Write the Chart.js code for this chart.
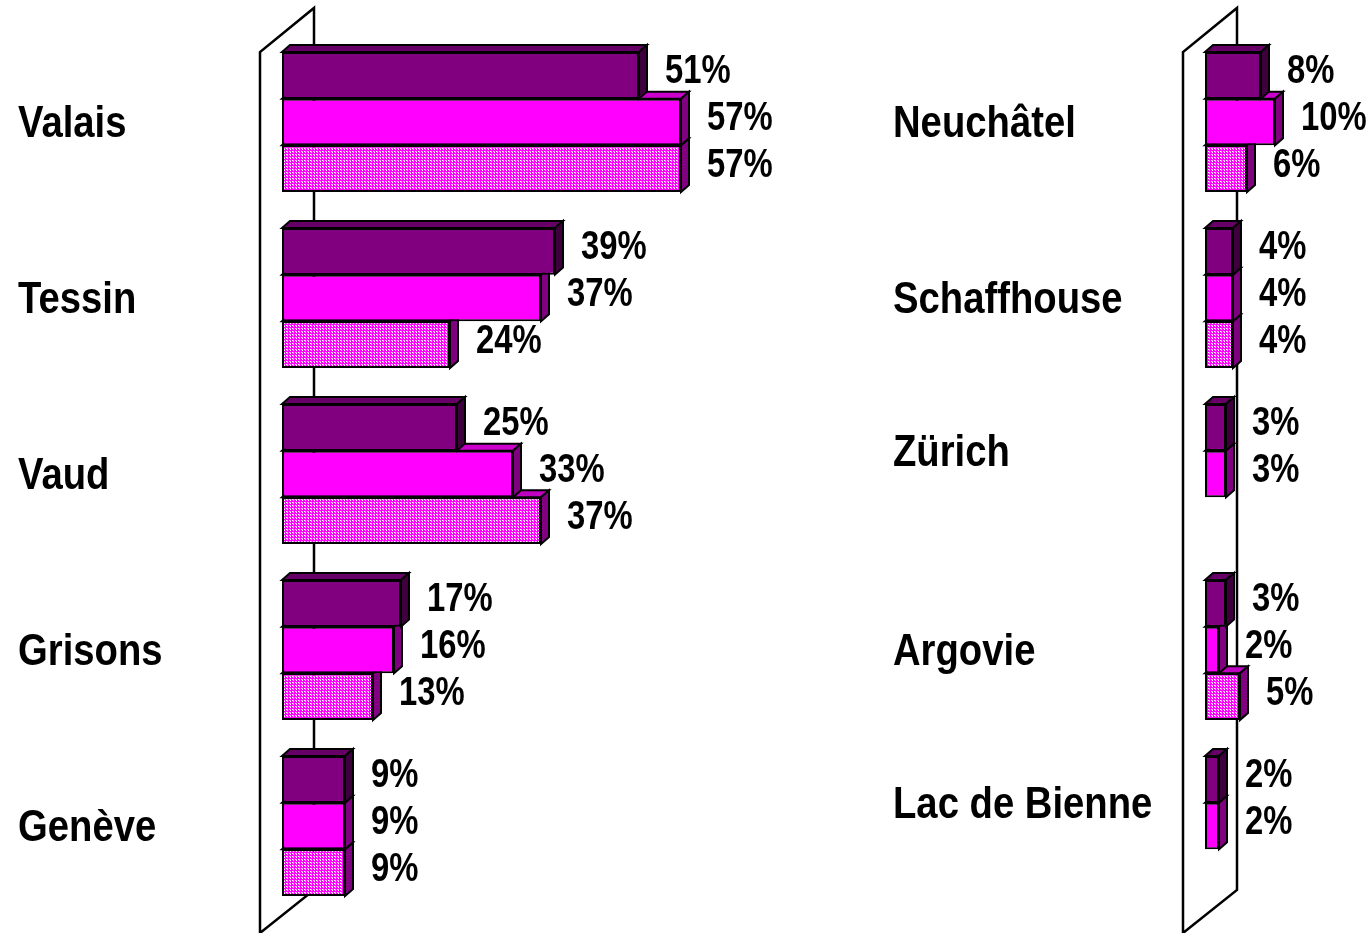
<!DOCTYPE html>
<html>
<head>
<meta charset="utf-8">
<script src="https://cdn.jsdelivr.net/npm/chart.js@4.4.1/dist/chart.umd.min.js"></script>
<style>
  body { margin: 0; background: #fff; }
  #wrap { position: relative; width: 1372px; height: 933px; overflow: hidden; }
  canvas { position: absolute; top: 0; }
  #chartWest { left: 0; }
  #chartEast { left: 880px; }
</style>
</head>
<body>
<div id="wrap">
  <canvas id="chartWest" width="860" height="933"></canvas>
  <canvas id="chartEast" width="492" height="933"></canvas>
</div>
<script>
const westRegions = ["Valais", "Tessin", "Vaud", "Grisons", "Genève"];
const westSeriesA = [51, 39, 25, 17, 9];
const westSeriesB = [57, 37, 33, 16, 9];
const westSeriesC = [57, 24, 37, 13, 9];

const eastRegions = ["Neuchâtel", "Schaffhouse", "Zürich", "Argovie", "Lac de Bienne"];
const eastSeriesA = [8, 4, 3, 3, 2];
const eastSeriesB = [10, 4, 3, 2, 2];
const eastSeriesC = [6, 4, null, 5, null];

const FONT = '"Liberation Sans", Arial, sans-serif';
const DEPTH_X = 8;
const DEPTH_Y = 7;

// magenta fill sprinkled with white dots
function dottedFill() {
  const c = document.createElement("canvas");
  c.width = 3;
  c.height = 3;
  const g = c.getContext("2d");
  g.fillStyle = "#ff00ff";
  g.fillRect(0, 0, 3, 3);
  g.fillStyle = "#ffffff";
  g.fillRect(1, 1, 1, 1);
  g.fillRect(2, 2, 1, 1);
  g.fillStyle = "#ff90ff";
  g.fillRect(2, 1, 1, 1);
  return g.createPattern(c, "repeat");
}

// Liberation Sans squeezed sideways into a narrow face
function narrowText(ctx, text, x, y, squeeze) {
  ctx.save();
  ctx.translate(x, y);
  ctx.scale(squeeze, 1);
  ctx.fillText(text, 0, 0);
  ctx.restore();
}

// slanted back wall behind the bars
const wall = {
  id: "wall",
  beforeDatasetsDraw(chart) {
    const { ctx, chartArea: a, scales } = chart;
    const zero = scales.x.getPixelForValue(0);
    const fx = zero - 22;
    const bx = zero + 32;
    ctx.save();
    ctx.lineWidth = 2.5;
    ctx.strokeStyle = "#000";
    ctx.beginPath();
    ctx.moveTo(bx, a.bottom - 24);
    ctx.lineTo(bx, a.top - 26);
    ctx.lineTo(fx, a.top + 18);
    ctx.lineTo(fx, a.bottom + 19);
    ctx.closePath();
    ctx.stroke();
    ctx.restore();
  }
};

// top and side faces so each bar reads as a block
const box3d = {
  id: "box3d",
  beforeDatasetDraw(chart, args) {
    const ds = chart.data.datasets[args.index];
    const ctx = chart.ctx;
    ctx.save();
    ctx.lineWidth = 2;
    ctx.strokeStyle = "#000";
    args.meta.data.forEach((bar, i) => {
      if (ds.data[i] == null) return;
      const { x, y, base, height } = bar.getProps(["x", "y", "base", "height"], true);
      const top = y - height / 2;
      const bottom = y + height / 2;
      ctx.beginPath();
      ctx.moveTo(base, top);
      ctx.lineTo(base + DEPTH_X, top - DEPTH_Y);
      ctx.lineTo(x + DEPTH_X, top - DEPTH_Y);
      ctx.lineTo(x, top);
      ctx.closePath();
      ctx.fillStyle = ds.topColor;
      ctx.fill();
      ctx.stroke();

      ctx.beginPath();
      ctx.moveTo(x, top);
      ctx.lineTo(x + DEPTH_X, top - DEPTH_Y);
      ctx.lineTo(x + DEPTH_X, bottom - DEPTH_Y);
      ctx.lineTo(x, bottom);
      ctx.closePath();
      ctx.fillStyle = ds.sideColor;
      ctx.fill();
      ctx.stroke();
    });
    ctx.restore();
  }
};

// percentages beside the bars and region names on the left
const texts = {
  id: "texts",
  afterDatasetsDraw(chart, args, opts) {
    const ctx = chart.ctx;
    ctx.save();
    ctx.fillStyle = "#000";
    ctx.textAlign = "left";
    ctx.textBaseline = "middle";

    ctx.font = "bold 40px " + FONT;
    chart.data.datasets.forEach((ds, d) => {
      chart.getDatasetMeta(d).data.forEach((bar, i) => {
        const v = ds.data[i];
        if (v == null) return;
        narrowText(ctx, v + "%", bar.x + 26, bar.y - 3, 0.82);
      });
    });

    ctx.font = "bold 45px " + FONT;
    chart.data.labels.forEach((name, i) => {
      let sum = 0;
      let n = 0;
      chart.data.datasets.forEach((ds, d) => {
        if (ds.data[i] == null) return;
        sum += chart.getDatasetMeta(d).data[i].y;
        n++;
      });
      narrowText(ctx, name, opts.x, sum / n + 3, 0.85);
    });
    ctx.restore();
  }
};

function makeChart(id, regions, a, b, c, maxValue, padding, labelX) {
  const dots = dottedFill();
  return new Chart(document.getElementById(id), {
    type: "bar",
    data: {
      labels: regions,
      datasets: [
        { data: a, backgroundColor: "#800080", topColor: "#660066", sideColor: "#3d003d" },
        { data: b, backgroundColor: "#ff00ff", topColor: "#cc00cc", sideColor: "#800080" },
        { data: c, backgroundColor: dots, topColor: "#c000c0", sideColor: "#800080" }
      ]
    },
    options: {
      indexAxis: "y",
      responsive: false,
      animation: false,
      devicePixelRatio: 1,
      layout: { padding },
      datasets: {
        bar: {
          barPercentage: 1,
          categoryPercentage: 140 / 176,
          borderColor: "#000",
          borderWidth: 2,
          borderSkipped: false
        }
      },
      scales: {
        x: { type: "linear", min: 0, max: maxValue, display: false },
        y: { display: false }
      },
      plugins: {
        legend: { display: false },
        tooltip: { enabled: false },
        texts: { x: labelX }
      }
    },
    plugins: [wall, box3d, texts]
  });
}

makeChart("chartWest", westRegions, westSeriesA, westSeriesB, westSeriesC, 60,
  { left: 282, right: 158, top: 34, bottom: 19 }, 18);
makeChart("chartEast", eastRegions, eastSeriesA, eastSeriesB, eastSeriesC, 20,
  { left: 325, right: 27, top: 34, bottom: 19 }, 13);
</script>
</body>
</html>
